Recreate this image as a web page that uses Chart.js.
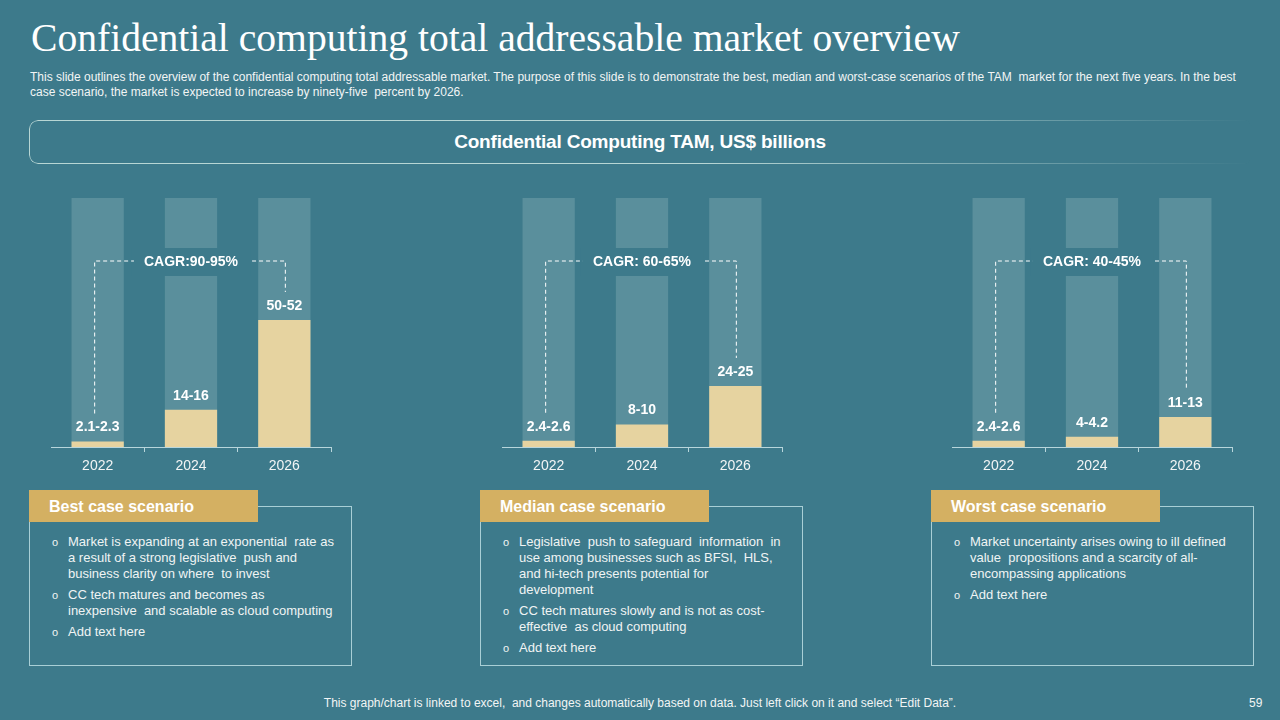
<!DOCTYPE html>
<html>
<head>
<meta charset="utf-8">
<script src="https://cdn.jsdelivr.net/npm/chart.js@4.4.0/dist/chart.umd.min.js"></script>
<style>
  html, body { margin:0; padding:0; }
  body { width:1280px; height:720px; background:#3d7a8b; position:relative; overflow:hidden; font-family:"Liberation Sans", Arial, sans-serif; color:#fff; }
  .abs { position:absolute; }
  #title { left:31px; top:15px; font-family:"Liberation Serif", "DejaVu Serif", serif; font-size:39.6px; color:#fff; white-space:nowrap; }
  #sub { left:30px; top:70px; font-size:12px; line-height:15px; color:#f2f5f5; width:1230px; white-space:nowrap; }
  #hdrbox { left:29px; top:120px; width:1222px; height:42px; border:1.5px solid #b8d6d4; border-radius:9px;
            -webkit-mask-image:linear-gradient(to right, #000 0%, #000 55%, rgba(0,0,0,0) 100%);
            mask-image:linear-gradient(to right, #000 0%, #000 55%, rgba(0,0,0,0) 100%); }
  #hdr { left:0; width:1280px; top:131px; text-align:center; font-weight:bold; font-size:19px; letter-spacing:-0.2px; color:#fff; }
  canvas { position:absolute; }
  .outline { position:absolute; border:1px solid #a9cfd6; }
  .tag { position:absolute; background:#d4b062; color:#fff; font-weight:bold; font-size:16px; line-height:33px; padding-left:20px; box-sizing:border-box; }
  .list { position:absolute; font-size:13px; line-height:16px; color:#f0f4f4; }
  .list .item { position:relative; padding-left:16px; margin-bottom:5px; }
  .list .item::before { content:"o"; position:absolute; left:0; top:0; font-size:11px; }
  #foot { left:0; width:1280px; top:696px; text-align:center; font-size:12px; color:#f2f5f5; }
  #pg { left:1249px; top:696px; font-size:12px; color:#f2f5f5; }
</style>
</head>
<body>
<div id="title" class="abs">Confidential computing total addressable market overview</div>
<div id="sub" class="abs">This slide outlines the overview of the confidential computing total addressable market. The purpose of this slide is to demonstrate the best, median and worst-case scenarios of the TAM&nbsp; market for the next five years. In the best<br>case scenario, the market is expected to increase by ninety-five&nbsp; percent by 2026.</div>
<div id="hdrbox" class="abs"></div>
<div id="hdr" class="abs">Confidential Computing TAM, US$ billions</div>

<canvas id="c0"></canvas>
<canvas id="c1"></canvas>
<canvas id="c2"></canvas>

<div class="outline" style="left:29px;top:506px;width:321px;height:158px;"></div>
<div class="tag" style="left:29px;top:490px;width:229px;height:32px;">Best case scenario</div>
<div class="list" style="left:52px;top:534px;width:290px;">
  <div class="item">Market is expanding at an exponential&nbsp; rate as<br>a result of a strong legislative&nbsp; push and<br>business clarity on where&nbsp; to invest</div>
  <div class="item">CC tech matures and becomes as<br>inexpensive&nbsp; and scalable as cloud computing</div>
  <div class="item">Add text here</div>
</div>

<div class="outline" style="left:480px;top:506px;width:321px;height:158px;"></div>
<div class="tag" style="left:480px;top:490px;width:229px;height:32px;">Median case scenario</div>
<div class="list" style="left:503px;top:534px;width:290px;">
  <div class="item">Legislative&nbsp; push to safeguard&nbsp; information&nbsp; in<br>use among businesses such as BFSI,&nbsp; HLS,<br>and hi-tech presents potential for<br>development</div>
  <div class="item">CC tech matures slowly and is not as cost-<br>effective&nbsp; as cloud computing</div>
  <div class="item">Add text here</div>
</div>

<div class="outline" style="left:931px;top:506px;width:321px;height:158px;"></div>
<div class="tag" style="left:931px;top:490px;width:229px;height:32px;">Worst case scenario</div>
<div class="list" style="left:954px;top:534px;width:290px;">
  <div class="item">Market uncertainty arises owing to ill defined<br>value&nbsp; propositions and a scarcity of all-<br>encompassing applications</div>
  <div class="item">Add text here</div>
</div>

<div id="foot" class="abs">This graph/chart is linked to excel,&nbsp; and changes automatically based on data. Just left click on it and select “Edit Data”.</div>
<div id="pg" class="abs">59</div>

<script>
const years = ['2022', '2024', '2026'];
const bestValues = [2.2, 15, 51];
const bestLabels = ['2.1-2.3', '14-16', '50-52'];
const medianValues = [2.5, 9, 24.5];
const medianLabels = ['2.4-2.6', '8-10', '24-25'];
const worstValues = [2.5, 4.1, 12];
const worstLabels = ['2.4-2.6', '4-4.2', '11-13'];
const cagrLabels = ['CAGR:90-95%', 'CAGR: 60-65%', 'CAGR: 40-45%'];
const fullScale = [100, 100, 100];

const BG = '#3d7a8b';
const scenarios = [
  { id: 'c0', left: 51, values: bestValues, labels: bestLabels, cagr: cagrLabels[0] },
  { id: 'c1', left: 502, values: medianValues, labels: medianLabels, cagr: cagrLabels[1] },
  { id: 'c2', left: 952, values: worstValues, labels: worstLabels, cagr: cagrLabels[2] }
];

const annot = {
  id: 'annot',
  afterDatasetsDraw(chart, args, opts) {
    const ctx = chart.ctx;
    const meta = chart.getDatasetMeta(1);
    const area = chart.chartArea;
    ctx.save();
    ctx.font = 'bold 14px "Liberation Sans", Arial, sans-serif';
    ctx.fillStyle = '#ffffff';
    ctx.textAlign = 'center';
    ctx.textBaseline = 'middle';
    const labelYs = [];
    meta.data.forEach((bar, i) => {
      const y = bar.y - 14;
      labelYs.push(y);
      ctx.fillText(opts.labels[i], bar.x, y);
    });
    // CAGR callout
    const cy = area.top + 63;
    const cx = meta.data[1].x;
    const w = ctx.measureText(opts.cagr).width;
    ctx.fillStyle = BG;
    ctx.fillRect(cx - w / 2 - 12, area.top + 50, w + 24, 28);
    ctx.fillStyle = '#ffffff';
    ctx.fillText(opts.cagr, cx, cy + 1);
    ctx.strokeStyle = '#ffffff';
    ctx.lineWidth = 1;
    ctx.setLineDash([4, 3]);
    const x0 = meta.data[0].x - 3;
    const x2 = meta.data[2].x + 1;
    ctx.beginPath();
    ctx.moveTo(x0, labelYs[0] - 14);
    ctx.lineTo(x0, cy);
    ctx.lineTo(cx - w / 2 - 10, cy);
    ctx.moveTo(cx + w / 2 + 14, cy);
    ctx.lineTo(x2, cy);
    ctx.lineTo(x2, labelYs[2] - 14);
    ctx.stroke();
    ctx.restore();
  }
};

scenarios.forEach(s => {
  const cv = document.getElementById(s.id);
  cv.style.left = s.left + 'px';
  cv.style.top = '198px';
  cv.style.width = '281px';
  cv.style.height = '282px';
  cv.width = 281; cv.height = 282;
  new Chart(cv, {
    type: 'bar',
    data: {
      labels: years,
      datasets: [
        { data: fullScale, backgroundColor: '#5a8f9c', grouped: false, order: 2,
          categoryPercentage: 1, barPercentage: 0.56 },
        { data: s.values, backgroundColor: '#e6d3a0', grouped: false, order: 1,
          categoryPercentage: 1, barPercentage: 0.56 }
      ]
    },
    options: {
      responsive: false,
      animation: false,
      devicePixelRatio: 1,
      layout: { padding: { left: 0, right: 1, top: 0, bottom: 0 } },
      plugins: { legend: { display: false }, tooltip: { enabled: false },
                 annot: { labels: s.labels, cagr: s.cagr } },
      scales: {
        y: { display: false, min: 0, max: 100 },
        x: {
          afterFit: (scale) => { scale.height = 33; },
          border: { display: true, color: '#b8d6dc', width: 1 },
          grid: { display: true, drawOnChartArea: false, drawTicks: true, tickLength: 5, color: '#b8d6dc', offset: true },
          ticks: { color: '#f2f5f5', padding: 6, font: { family: '"Liberation Sans", Arial, sans-serif', size: 14 } }
        }
      }
    },
    plugins: [annot]
  });
});
</script>
</body>
</html>
